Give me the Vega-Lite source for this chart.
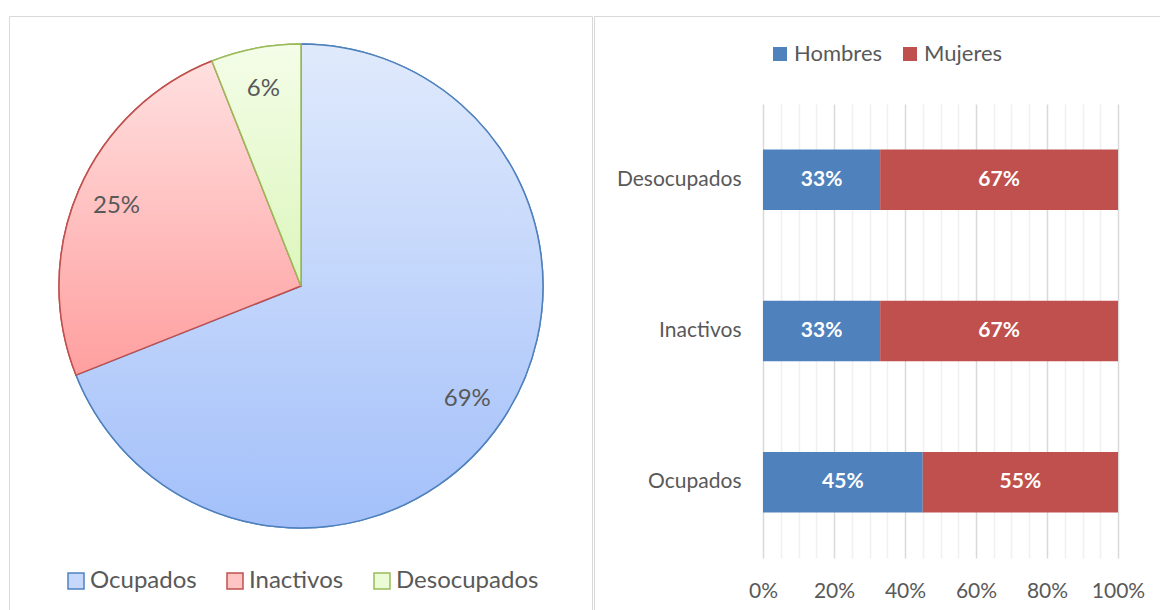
{
  "$schema": "https://vega.github.io/schema/vega-lite/v6.json",
  "background": "white",
  "padding": {"left": 8, "top": 15, "right": 0, "bottom": 0},
  "spacing": 0,
  "config": {
    "font": "Lato",
    "view": {"stroke": "#d9d9d9", "strokeWidth": 1},
    "legend": {"padding": 0, "labelColor": "#595959", "labelFont": "Lato"},
    "axis": {"labelFont": "Lato", "labelColor": "#595959"}
  },
  "hconcat": [
    {
      "width": 583,
      "height": 600,
      "view": {"stroke": "#d9d9d9", "strokeWidth": 1},
      "data": {
        "values": [
          {"estado": "Ocupados", "pct": 0.69},
          {"estado": "Inactivos", "pct": 0.25},
          {"estado": "Desocupados", "pct": 0.06}
        ]
      },
      "encoding": {
        "theta": {"field": "pct", "type": "quantitative", "stack": true},
        "order": {"field": "pct", "sort": "descending"}
      },
      "layer": [
        {
          "mark": {"type": "arc", "outerRadius": 242, "strokeWidth": 1.5, "x": 292, "y": 270},
          "encoding": {
            "fill": {
              "field": "estado",
              "type": "nominal",
              "scale": {"domain": ["Ocupados", "Inactivos", "Desocupados"], "range": ["#c6d8fb", "#ffc4c4", "#ebfbd6"]},
              "legend": {"orient": "none", "legendX": 55, "legendY": 553, "direction": "horizontal", "title": null, "symbolType": "square", "symbolSize": 256, "symbolStrokeWidth": 1.5, "labelFontSize": 24, "labelOffset": 2, "columnPadding": 26}
            },
            "stroke": {
              "field": "estado",
              "type": "nominal",
              "scale": {"domain": ["Ocupados", "Inactivos", "Desocupados"], "range": ["#4f81bd", "#c0504d", "#9bbb59"]},
              "legend": {"orient": "none", "legendX": 55, "legendY": 553, "direction": "horizontal", "title": null, "symbolType": "square", "symbolSize": 256, "symbolStrokeWidth": 1.5, "labelFontSize": 24, "labelOffset": 2, "columnPadding": 26}
            }
          }
        },
        {
          "mark": {"type": "arc", "outerRadius": 242, "strokeWidth": 1.5, "x": 292, "y": 270},
          "encoding": {
            "fill": {
              "condition": [
                {"test": "datum.estado === 'Ocupados'", "value": {"gradient": "linear", "x1": 0, "y1": 0, "x2": 0, "y2": 1, "stops": [{"offset": 0, "color": "#e0eafc"}, {"offset": 1, "color": "#a3c0fa"}]}},
                {"test": "datum.estado === 'Inactivos'", "value": {"gradient": "linear", "x1": 0, "y1": 0, "x2": 0, "y2": 1, "stops": [{"offset": 0, "color": "#ffe0e0"}, {"offset": 1, "color": "#ff9f9f"}]}}
              ],
              "value": {"gradient": "linear", "x1": 0, "y1": 0, "x2": 0, "y2": 1, "stops": [{"offset": 0, "color": "#f4fde8"}, {"offset": 1, "color": "#dcf6bc"}]}
            },
            "stroke": {
              "field": "estado",
              "type": "nominal",
              "scale": {"domain": ["Ocupados", "Inactivos", "Desocupados"], "range": ["#4f81bd", "#c0504d", "#9bbb59"]},
              "legend": {"orient": "none", "legendX": 55, "legendY": 553, "direction": "horizontal", "title": null, "symbolType": "square", "symbolSize": 256, "symbolStrokeWidth": 1.5, "labelFontSize": 24, "labelOffset": 2, "columnPadding": 26}
            }
          }
        },
        {
          "mark": {"type": "text", "radius": 201, "fontSize": 24, "color": "#595959", "x": 292, "y": 270},
          "encoding": {
            "text": {"field": "pct", "type": "quantitative", "format": ".0%"}
          }
        }
      ]
    },
    {
      "width": 570,
      "height": 630,
      "data": {
        "values": [
          {"estado": "Desocupados", "sexo": "Hombres", "pct": 0.33},
          {"estado": "Desocupados", "sexo": "Mujeres", "pct": 0.67},
          {"estado": "Inactivos", "sexo": "Hombres", "pct": 0.33},
          {"estado": "Inactivos", "sexo": "Mujeres", "pct": 0.67},
          {"estado": "Ocupados", "sexo": "Hombres", "pct": 0.45},
          {"estado": "Ocupados", "sexo": "Mujeres", "pct": 0.55}
        ]
      },
      "layer": [
        {
          "mark": {"type": "bar"},
          "encoding": {
            "y": {
              "field": "estado", "type": "nominal",
              "sort": ["Desocupados", "Inactivos", "Ocupados"],
              "scale": {"range": [88, 542], "paddingInner": 0.6, "paddingOuter": 0.3},
              "axis": {"orient": "left", "offset": -169, "domain": false, "ticks": false, "grid": false, "labelPadding": 22, "labelFontSize": 21, "title": null}
            },
            "x": {
              "field": "pct", "type": "quantitative", "stack": "zero",
              "scale": {"domain": [0, 1], "range": [169, 524], "nice": false},
              "axis": {
                "orient": "bottom", "offset": -88, "title": null, "domain": false, "ticks": false,
                "values": [0, 0.05, 0.1, 0.15, 0.2, 0.25, 0.3, 0.35, 0.4, 0.45, 0.5, 0.55, 0.6, 0.65, 0.7, 0.75, 0.8, 0.85, 0.9, 0.95, 1],
                "labelExpr": "abs(datum.value*5 - round(datum.value*5)) < 0.001 ? format(datum.value, '.0%') : ''",
                "labelOverlap": false, "labelFlush": false, "labelBound": false, "labelPadding": 22, "labelFontSize": 21,
                "grid": true,
                "gridColor": {"condition": {"test": "abs(datum.value*5 - round(datum.value*5)) < 0.001", "value": "#d9d9d9"}, "value": "#f0f0f0"},
                "gridWidth": 1.5
              }
            },
            "color": {
              "field": "sexo", "type": "nominal",
              "scale": {"domain": ["Hombres", "Mujeres"], "range": ["#4f81bd", "#c0504d"]},
              "legend": {"orient": "none", "legendX": 760, "legendY": 27, "direction": "horizontal", "title": null, "symbolType": "square", "symbolSize": 196, "symbolStrokeWidth": 0, "labelFontSize": 22, "labelOffset": 3, "columnPadding": 16}
            },
            "order": {"field": "sexo", "sort": "ascending"}
          }
        },
        {
          "mark": {"type": "text", "color": "white", "fontWeight": "bold", "fontSize": 21},
          "encoding": {
            "y": {
              "field": "estado", "type": "nominal",
              "sort": ["Desocupados", "Inactivos", "Ocupados"],
              "scale": {"range": [88, 542], "paddingInner": 0.6, "paddingOuter": 0.3},
              "axis": {"orient": "left", "offset": -169, "domain": false, "ticks": false, "grid": false, "labelPadding": 22, "labelFontSize": 21, "title": null}
            },
            "x": {
              "field": "pct", "type": "quantitative", "stack": "zero", "bandPosition": 0.5,
              "scale": {"domain": [0, 1], "range": [169, 524], "nice": false},
              "axis": {
                "orient": "bottom", "offset": -88, "title": null, "domain": false, "ticks": false,
                "values": [0, 0.05, 0.1, 0.15, 0.2, 0.25, 0.3, 0.35, 0.4, 0.45, 0.5, 0.55, 0.6, 0.65, 0.7, 0.75, 0.8, 0.85, 0.9, 0.95, 1],
                "labelExpr": "abs(datum.value*5 - round(datum.value*5)) < 0.001 ? format(datum.value, '.0%') : ''",
                "labelOverlap": false, "labelFlush": false, "labelBound": false, "labelPadding": 22, "labelFontSize": 21,
                "grid": true,
                "gridColor": {"condition": {"test": "abs(datum.value*5 - round(datum.value*5)) < 0.001", "value": "#d9d9d9"}, "value": "#f0f0f0"},
                "gridWidth": 1.5
              }
            },
            "text": {"field": "pct", "type": "quantitative", "format": ".0%"},
            "order": {"field": "sexo", "sort": "ascending"}
          }
        }
      ]
    }
  ]
}
